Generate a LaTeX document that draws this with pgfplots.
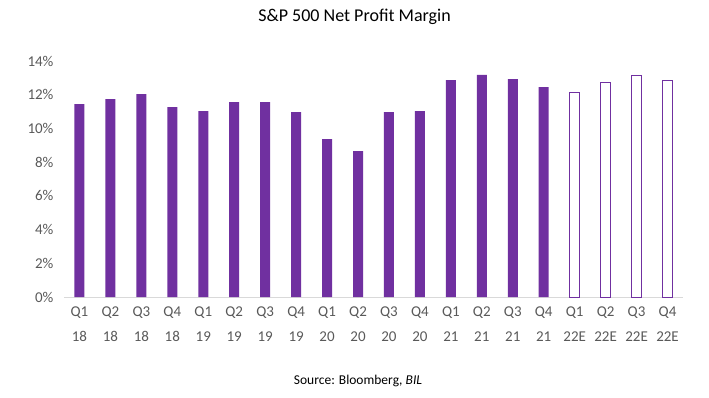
\documentclass[border=0pt]{standalone}
\usepackage{pgfplots}
\pgfplotsset{compat=1.18}
\usepackage{fontspec}
\setmainfont{Carlito}
\definecolor{barpurple}{HTML}{7030A0}
\definecolor{ticklab}{HTML}{595959}
\definecolor{axisgrey}{HTML}{D9D9D9}
\begin{document}
\begin{tikzpicture}[x=1pt,y=1pt]
\path[use as bounding box] (0,0) rectangle (709,397);
\node[font=\fontsize{18}{22}\selectfont] at (354.5,380) {S\&P 500 Net Profit Margin};
\node[font=\fontsize{13.5}{16}\selectfont] at (358,16) {Source: Bloomberg, \textit{BIL}};
\begin{axis}[
  at={(64pt,100pt)}, anchor=south west,
  width=619pt, height=236pt, scale only axis,
  xmin=-0.5, xmax=19.5, ymin=0, ymax=14,
  axis lines*=left,
  x axis line style={draw=axisgrey, line width=1pt, -},
  y axis line style={draw=none},
  tick style={draw=none},
  ytick={0,2,...,14},
  yticklabel={\pgfmathprintnumber{\tick}\%},
  /pgf/number format/assume math mode=true,
  xtick={0,...,19},
  xticklabels={{Q1\\18},{Q2\\18},{Q3\\18},{Q4\\18},{Q1\\19},{Q2\\19},{Q3\\19},{Q4\\19},{Q1\\20},{Q2\\20},{Q3\\20},{Q4\\20},{Q1\\21},{Q2\\21},{Q3\\21},{Q4\\21},{Q1\\22E},{Q2\\22E},{Q3\\22E},{Q4\\22E}},
  xticklabel style={align=center, font=\fontsize{15}{24.5}\selectfont, text=ticklab, yshift=-2pt},
  yticklabel style={font=\fontsize{15}{17}\selectfont, text=ticklab, xshift=-7pt},
  ybar, bar width=10pt,
  clip=false,
]
\addplot[fill=barpurple, draw=none, bar shift=0pt] coordinates {
 (0,11.44) (1,11.74) (2,12.04) (3,11.26) (4,11.03) (5,11.56) (6,11.56) (7,10.97)
 (8,9.36) (9,8.65) (10,10.97) (11,11.03) (12,12.87) (13,13.17) (14,12.93) (15,12.45)
};
\addplot[fill=white, draw=barpurple, line width=1pt, bar shift=0pt, bar width=9.5pt] coordinates {
 (16,12.14) (17,12.73) (18,13.15) (19,12.85)
};
\end{axis}
\end{tikzpicture}
\end{document}
